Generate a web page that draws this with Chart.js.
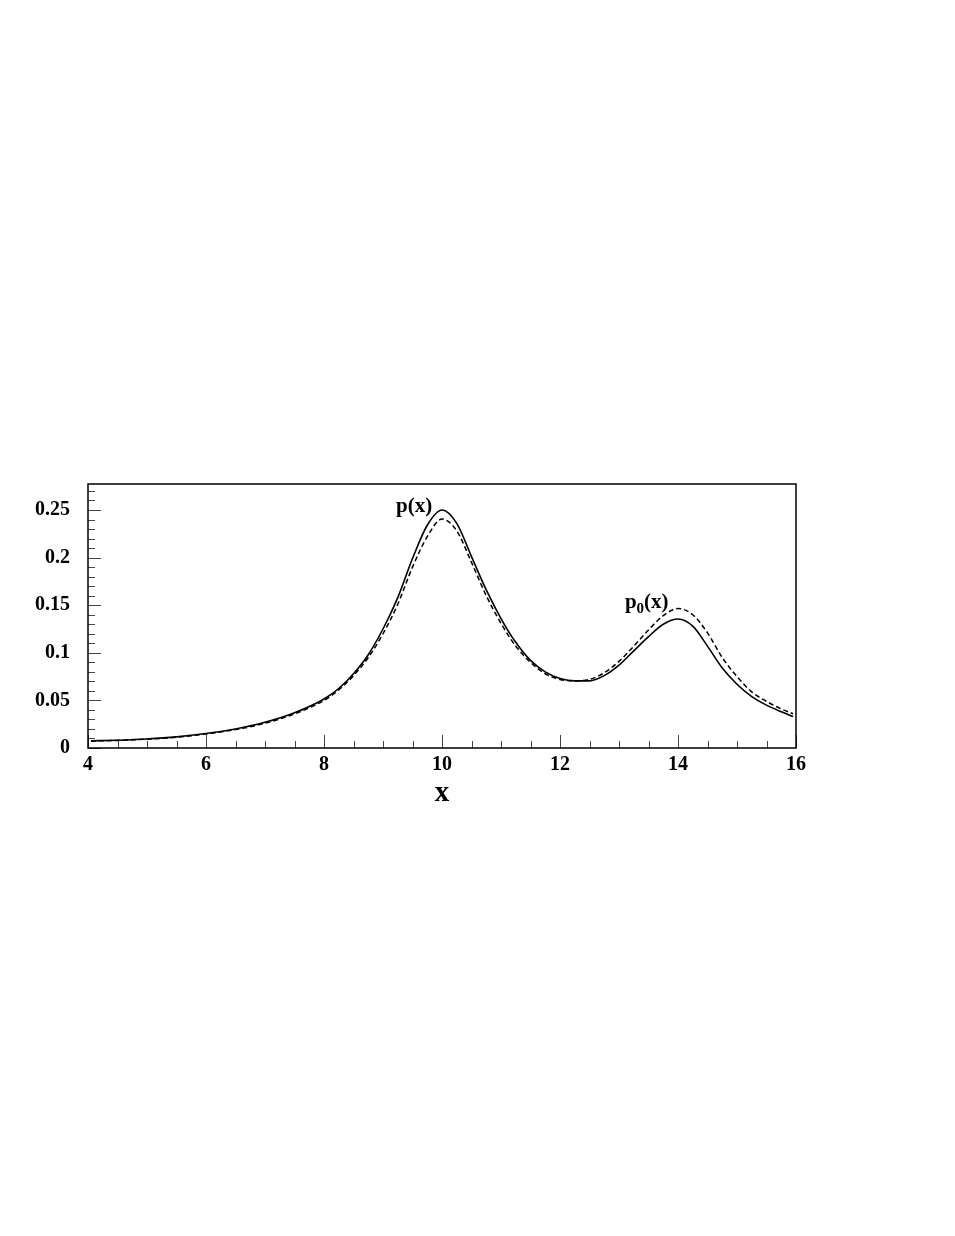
<!DOCTYPE html>
<html>
<head>
<meta charset="utf-8">
<script src="https://cdn.jsdelivr.net/npm/chart.js@4.4.1/dist/chart.umd.min.js"></script>
<style>
  html, body { margin: 0; padding: 0; background: #fff; }
  #wrap { width: 955px; height: 1236px; }
</style>
</head>
<body>
<div id="wrap"><canvas id="pdf-chart" width="955" height="1236"></canvas></div>
<script>
// values
const xs = [4.05, 4.5, 5, 5.5, 6, 6.5, 7, 7.5, 8, 8.25, 8.5, 8.75, 9, 9.25, 9.5, 9.75, 10,
    10.25, 10.5, 10.75, 11, 11.25, 11.5, 11.75, 12, 12.25, 12.5, 12.75, 13, 13.25, 13.5, 13.75, 14,
    14.25, 14.5, 14.75, 15, 15.25, 15.5, 15.75, 15.95];
const pFull = [0.0075, 0.0082, 0.0095, 0.0117, 0.0152, 0.0200, 0.0270, 0.0370, 0.0515, 0.0625, 0.0780, 0.0980, 0.1250, 0.1580, 0.1990, 0.2340, 0.2500,
    0.2360, 0.2010, 0.1660, 0.1360, 0.1110, 0.0920, 0.0800, 0.0730, 0.0705, 0.0705, 0.0760, 0.0870, 0.1020, 0.1170, 0.1300, 0.1355,
    0.1280, 0.1070, 0.0840, 0.0670, 0.0540, 0.0450, 0.0380, 0.0330];
const pZero = [0.0073, 0.0080, 0.0093, 0.0113, 0.0148, 0.0193, 0.0260, 0.0358, 0.0500, 0.0610, 0.0760, 0.0950, 0.1200, 0.1510, 0.1900, 0.2220, 0.2405,
    0.2280, 0.1950, 0.1600, 0.1310, 0.1070, 0.0900, 0.0780, 0.0720, 0.0705, 0.0720, 0.0790, 0.0910, 0.1070, 0.1240, 0.1390, 0.1465,
    0.1400, 0.1210, 0.0950, 0.0750, 0.0590, 0.0490, 0.0410, 0.0360];

const xMin = 4, xMax = 16;
const yMin = 0, yMax = 0.2773;
const xMajor = 2, xMinor = 0.5;
const yMajor = 0.05, yMinor = 0.01;

const serif = "'Liberation Serif', 'DejaVu Serif', serif";

function pts(ys) {
    return xs.map((x, i) => ({ x: x, y: ys[i] }));
}

// ROOT style frame with inward ticks, plus curve labels
const framePlugin = {
    id: "frame",
    afterDatasetsDraw(chart) {
        const c = chart.ctx;
        const a = chart.chartArea;
        const sx = chart.scales.x, sy = chart.scales.y;
        c.save();
        c.strokeStyle = "#444";
        c.lineWidth = 1;
        c.beginPath();
        for (let v = xMin; v <= xMax + 1e-9; v += xMinor) {
            const px = Math.round(sx.getPixelForValue(v)) + 0.5;
            const major = Math.abs(v / xMajor - Math.round(v / xMajor)) < 1e-6;
            c.moveTo(px, a.bottom);
            c.lineTo(px, a.bottom - (major ? 13 : 7));
        }
        for (let v = yMin; v <= yMax + 1e-9; v += yMinor) {
            const py = Math.round(sy.getPixelForValue(v)) + 0.5;
            const major = Math.abs(v / yMajor - Math.round(v / yMajor)) < 1e-6;
            c.moveTo(a.left, py);
            c.lineTo(a.left + (major ? 13 : 7), py);
        }
        c.stroke();

        c.strokeStyle = "#000";
        c.lineWidth = 1.5;
        c.strokeRect(a.left, a.top, a.right - a.left, a.bottom - a.top);

        // labels
        c.fillStyle = "#000";
        c.textBaseline = "alphabetic";
        c.textAlign = "left";
        c.font = "bold 21px " + serif;
        c.fillText("p(x)", sx.getPixelForValue(9.22), sy.getPixelForValue(0.248));

        let lx = sx.getPixelForValue(13.10);
        const ly = sy.getPixelForValue(0.147);
        c.fillText("p", lx, ly);
        lx += c.measureText("p").width;
        c.font = "bold 15px " + serif;
        c.fillText("0", lx, ly + 5);
        lx += c.measureText("0").width;
        c.font = "bold 21px " + serif;
        c.fillText("(x)", lx, ly);
        c.restore();
    },
};

const ctx = document.querySelector("#pdf-chart");
new Chart(ctx, {
    type: "line",
    data: {
        datasets: [
            {
                label: "p(x)",
                data: pts(pFull),
                borderColor: "#000",
                borderWidth: 1.6,
                pointRadius: 0,
                cubicInterpolationMode: "monotone",
            },
            {
                label: "p0(x)",
                data: pts(pZero),
                borderColor: "#000",
                borderWidth: 1.5,
                borderDash: [5, 3],
                pointRadius: 0,
                cubicInterpolationMode: "monotone",
            },
        ],
    },
    options: {
        responsive: false,
        animation: false,
        layout: {
            padding: { top: 484, right: 159, bottom: 418, left: 0 },
        },
        plugins: {
            legend: { display: false },
            tooltip: { enabled: false },
        },
        scales: {
            x: {
                type: "linear",
                min: xMin,
                max: xMax,
                afterFit: (s) => { s.height = 70; },
                border: { display: false },
                grid: { display: false, drawTicks: false },
                ticks: {
                    stepSize: xMajor,
                    includeBounds: false,
                    padding: 5,
                    color: "#000",
                    font: { family: serif, size: 20, weight: "bold" },
                    callback: (v) => String(v),
                },
                title: {
                    display: true,
                    text: "x",
                    color: "#000",
                    font: { family: serif, size: 29, weight: "bold" },
                    padding: { top: 0, bottom: 7 },
                },
            },
            y: {
                type: "linear",
                min: yMin,
                max: yMax,
                afterFit: (s) => { s.width = 88; },
                border: { display: false },
                grid: { display: false, drawTicks: false },
                ticks: {
                    stepSize: yMajor,
                    includeBounds: false,
                    padding: 18,
                    color: "#000",
                    font: { family: serif, size: 20, weight: "bold" },
                    callback: (v) => String(parseFloat(v.toFixed(2))),
                },
            },
        },
    },
    plugins: [framePlugin],
});
</script>
</body>
</html>
